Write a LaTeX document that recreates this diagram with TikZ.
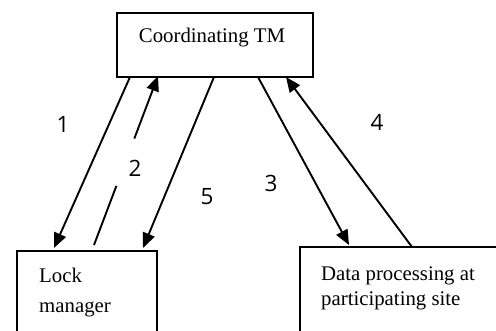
\documentclass[tikz,border=0pt]{standalone}
\usepackage{fontspec}
\setmainfont{Liberation Serif}
\newfontfamily\digitfont{Open Sans}
\usetikzlibrary{arrows.meta,calc}
\tikzset{
  box/.style={draw, line width=1.5pt, rectangle, inner sep=0pt},
  boxtext/.style={inner sep=0pt, font=\fontsize{20.8}{25}\selectfont},
  arr/.style={line width=1.9pt, -{Triangle[length=15pt,width=12.5pt]}},
  plain/.style={line width=1.9pt},
  num/.style={inner sep=0pt, font=\digitfont\fontsize{22.5}{26}\selectfont}
}
\begin{document}
\begin{tikzpicture}[x=1pt,y=-1pt]
\useasboundingbox (0,0) rectangle (496,330);
\clip (0,0) rectangle (496,330);
% boxes
\node[box, minimum width=196pt, minimum height=64pt] (tm) at (215,45) {};
\node[box, minimum width=140pt, minimum height=149pt] (lm) at (87,325.5) {};
\node[box, minimum width=300pt, minimum height=153pt] (dp) at (450,323.5) {};
% box texts
\node[boxtext, anchor=base] (tmt) at (212,42) {Coordinating TM};
\node[boxtext, anchor=base west] (lmt1) at (39,282) {Lock};
\node[boxtext, anchor=base west] (lmt2) at (39,312) {manager};
\node[boxtext, anchor=base west] (dpt1) at (321,280) {Data processing at};
\node[boxtext, anchor=base west] (dpt2) at (321,305) {participating site};
% arrow end points
\coordinate (a1s) at (130,77);
\coordinate (a1e) at (54,248);
\coordinate (a2s) at (94,245);
\coordinate (a2e) at (158,76);
\coordinate (a5s) at (214,77);
\coordinate (a5e) at (143,248);
\coordinate (a3s) at (258,77);
\coordinate (a3e) at (349,245);
\coordinate (a4s) at (412,247);
\coordinate (a4e) at (286,77);
% arrows
\draw[arr] (a1s) -- (a1e);
\draw[plain] (a2s) -- ($(a2s)!0.35!(a2e)$);
\draw[arr] ($(a2s)!0.63!(a2e)$) -- (a2e);
\draw[arr] (a5s) -- (a5e);
\draw[arr] (a3s) -- (a3e);
\draw[arr] (a4s) -- (a4e);
% labels
\node[num] (n1) at (63,124.5) {1};
\node[num] (n2) at (135,168) {2};
\node[num] (n5) at (207,197) {5};
\node[num] (n3) at (271,183) {3};
\node[num] (n4) at (377,122) {4};
\end{tikzpicture}
\end{document}
